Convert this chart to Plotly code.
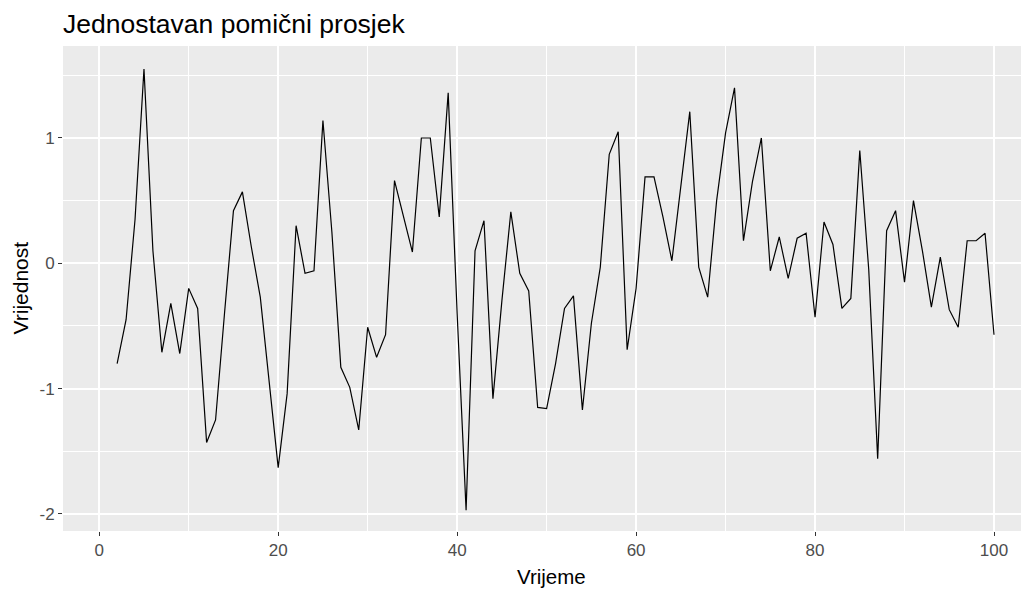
import plotly.graph_objects as go

x_vals = list(range(2, 101))
y_vals = [
    -0.80, -0.45, 0.35, 1.55, 0.10, -0.71, -0.32, -0.72, -0.20,   # 2-10
    -0.36, -1.43, -1.25, -0.40, 0.42, 0.57, 0.13, -0.27, -0.93, -1.63,  # 11-20
    -1.04, 0.30, -0.08, -0.06, 1.14, 0.25, -0.83, -0.99, -1.33, -0.51,  # 21-30
    -0.75, -0.57, 0.66, 0.37, 0.09, 1.00, 1.00, 0.37, 1.36, -0.40,  # 31-40
    -1.97, 0.10, 0.34, -1.08, -0.30, 0.41, -0.08, -0.22, -1.15, -1.16,  # 41-50
    -0.80, -0.36, -0.26, -1.17, -0.48, -0.03, 0.87, 1.05, -0.69, -0.20,  # 51-60
    0.69, 0.69, 0.37, 0.02, 0.64, 1.21, -0.03, -0.27, 0.50, 1.04,  # 61-70
    1.40, 0.18, 0.65, 1.00, -0.06, 0.21, -0.12, 0.20, 0.24, -0.43,  # 71-80
    0.33, 0.15, -0.36, -0.28, 0.90, -0.05, -1.56, 0.26, 0.42, -0.15,  # 81-90
    0.50, 0.10, -0.35, 0.05, -0.37, -0.51, 0.18, 0.18, 0.24, -0.57,  # 91-100
]
x_ticks = [0, 20, 40, 60, 80, 100]
y_ticks = [-2, -1, 0, 1]

title_text = "Jednostavan pomični prosjek"
x_title = "Vrijeme"
y_title = "Vrijednost"

font_family = "Liberation Sans, Arial, sans-serif"

# page body has an 8px default margin, so the figure is made 8px smaller
W, H = 1021, 582
ML, MR, MT, MB = 55, 1, 38, 59

fig = go.Figure()
fig.add_trace(go.Scatter(
    x=x_vals, y=y_vals, mode="lines",
    line=dict(color="black", width=1.2),
    showlegend=False, hoverinfo="skip",
))

fig.update_layout(
    width=W, height=H,
    margin=dict(l=ML, r=MR, t=MT, b=MB, autoexpand=False),
    paper_bgcolor="white",
    plot_bgcolor="#EBEBEB",
    font=dict(family=font_family, color="#4D4D4D"),
    title=dict(
        text=title_text, x=ML / W, xref="container", xanchor="left",
        y=1 - 16 / H, yref="container", yanchor="middle",
        font=dict(size=26.5, color="black", family=font_family),
    ),
    annotations=[
        dict(text=x_title, xref="paper", yref="paper", x=0.5057, y=0,
             xanchor="center", yanchor="middle", yshift=-45, showarrow=False,
             font=dict(size=20.5, color="black", family=font_family)),
        dict(text=y_title, xref="paper", yref="paper", x=0, y=0.5,
             xanchor="center", yanchor="middle", xshift=-43, showarrow=False,
             textangle=-90,
             font=dict(size=21, color="black", family=font_family)),
    ],
)

fig.update_xaxes(
    range=[-4.05, 103.8],
    tickvals=x_ticks,
    ticktext=[str(v) for v in x_ticks],
    ticks="outside", ticklen=4, tickwidth=1.2, tickcolor="#333333",
    tickfont=dict(size=17, color="#4D4D4D"),
    showgrid=True, gridcolor="white", gridwidth=1.6,
    minor=dict(tickvals=[10, 30, 50, 70, 90], showgrid=True,
               gridcolor="white", gridwidth=0.8, ticks=""),
    zeroline=False, showline=False, automargin=False,
)
fig.update_yaxes(
    range=[-2.136, 1.734],
    tickvals=y_ticks,
    ticktext=[str(v) for v in y_ticks],
    ticks="outside", ticklen=4, tickwidth=1.2, tickcolor="#333333",
    tickfont=dict(size=17, color="#4D4D4D"),
    showgrid=True, gridcolor="white", gridwidth=1.6,
    minor=dict(tickvals=[-1.5, -0.5, 0.5, 1.5], showgrid=True,
               gridcolor="white", gridwidth=0.8, ticks=""),
    zeroline=False, showline=False, automargin=False,
)

fig.write_html("out.html")
